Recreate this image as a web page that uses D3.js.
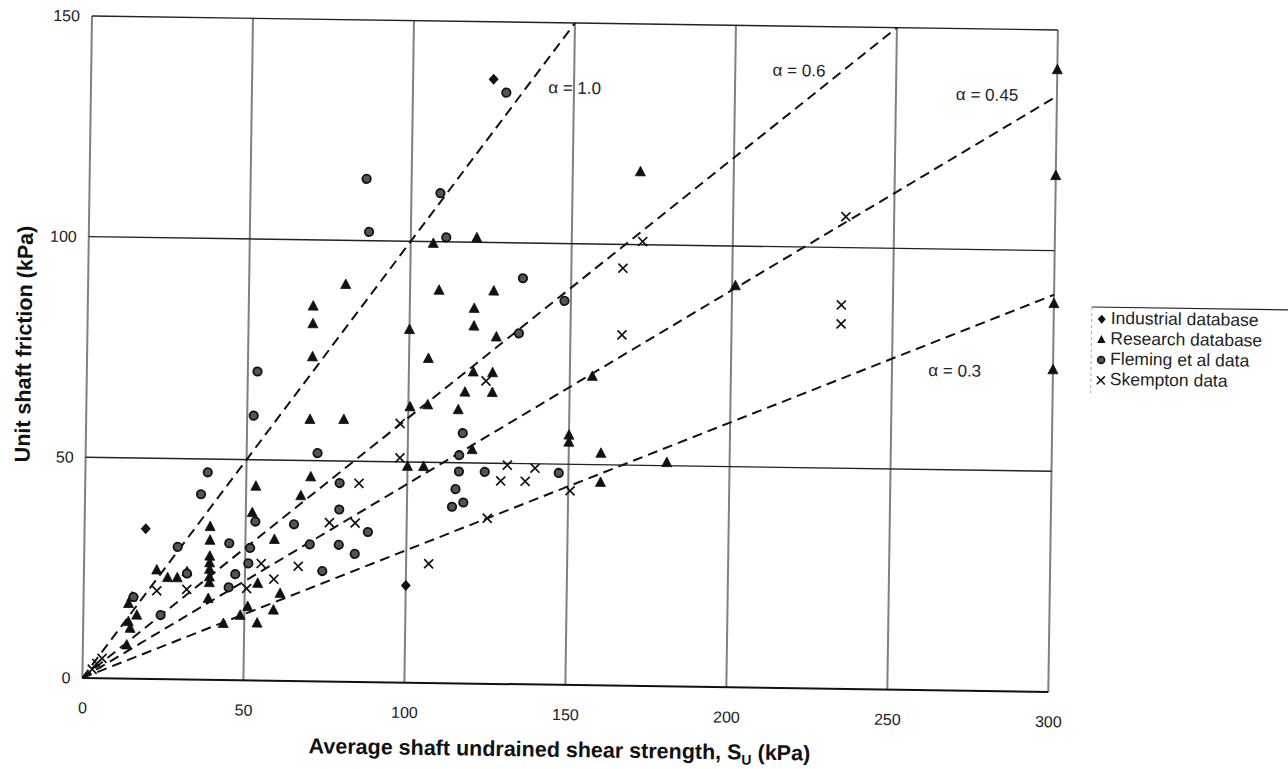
<!DOCTYPE html>
<html>
<head>
<meta charset="utf-8">
<script src="https://cdn.jsdelivr.net/npm/d3@7"></script>
<style>
  html, body { margin: 0; padding: 0; background: #fff; }
  svg { display: block; font-family: "Liberation Sans", Arial, sans-serif; }
</style>
</head>
<body>
<script>
// ---------- data ----------
const xTicks = [0, 50, 100, 150, 200, 250, 300];
const yTicks = [0, 50, 100, 150];
const alphas = [1.0, 0.6, 0.45, 0.3];
const alphaLabels = ["α = 1.0", "α = 0.6", "α = 0.45", "α = 0.3"];
const seriesNames = ["Industrial database", "Research database", "Fleming et al data", "Skempton data"];

const industrial = [[125,137],[19,34],[100,22]];

const research = [
  [300,141],[300,117],[300,88],[300,73],[201,91],[171,116.5],
  [107,99.6],[120.5,101],[80,90],[109,89],[126,89],[70,85],[70,81],[100,80],[120,85],[120,81],
  [127,78.6],[106,73.5],[70,73.5],[120,70.6],[126,70.5],[117.5,66],[126,66],[100.5,62.5],[106,63],
  [115.5,62],[150,56.6],[150,55],[120,53],[100,49],[105,49],[160,52.6],[180.5,50.7],[160,46],[157,70],
  [69.5,59.3],[80,59.4],[70,46.3],[67,42],[53,44],[52,38],[39,34.7],[39,31.6],[39,28],[39,26.5],
  [39,25],[39,23.3],[39,22],[59,32],[22.6,24.7],[26,23],[29,23],[32,24.4],[54,22],[38.7,18.4],
  [61,19.8],[59,16],[51,16.7],[48.7,14.7],[54,13],[43.5,12.8],[15,18.5],[14,17],[16.6,14.4],
  [14,12.9],[14.6,11.4],[13.6,7.6]
];

const fleming = [
  [129,134],[86,114],[109,111],[87,102],[111,101],[135,92],[148,87],[134,79.5],[53,70],[52,60],
  [72,51.7],[117,56.7],[116,51.7],[116,48],[124,48],[147,48],[115,44],[117.5,41],[114,40],[38,47],
  [36,42],[53,36],[45,31],[65,35.5],[51.5,30],[70,31],[29,30],[51,26.5],[47,24],[45,21],[24,14.5],
  [79,45],[79,39],[88,34],[79,31],[84,29],[74,25],[15.5,18.5],[32,24]
];

const skempton = [
  [235,107],[234,87],[234,82.7],[172,100.7],[166,94.6],[166,79.5],[124,68.6],[97.5,58.7],[97.6,50.9],
  [131,49.6],[139.6,49],[129,46],[136.6,46],[150.6,44],[125,37.5],[107,27],[85,45],[76,36],[84,36],
  [55,26.5],[66.5,26],[59,23],[50.6,20.8],[22.7,20],[32,20.4],[4.4,3.3],[6,4.5],[3,2]
];

// ---------- layout ----------
const W = 1288, H = 769;
const pw = 966, ph = 662;
const svg = d3.select("body").append("svg").attr("width", W).attr("height", H);
svg.append("rect").attr("width", W).attr("height", H).attr("fill", "#fff");

// the scanned figure is slightly rotated
const g = svg.append("g").attr("transform", "translate(92,16) rotate(0.83)");

const x = d3.scaleLinear().domain([0, 300]).range([0, pw]);
const y = d3.scaleLinear().domain([0, 150]).range([ph, 0]);

// vertical grid lines (grey)
g.selectAll("line.vgrid").data(xTicks).enter().append("line")
  .attr("class", "vgrid")
  .attr("x1", d => x(d)).attr("x2", d => x(d))
  .attr("y1", y(0)).attr("y2", y(150))
  .attr("stroke", "#808080").attr("stroke-width", 2);

// horizontal lines
g.selectAll("line.hgrid").data(yTicks).enter().append("line")
  .attr("class", "hgrid")
  .attr("x1", x(0)).attr("x2", x(300))
  .attr("y1", d => y(d)).attr("y2", d => y(d))
  .attr("stroke", d => d === 0 ? "#111" : "#222")
  .attr("stroke-width", d => d === 0 ? 2 : 1.4);

// alpha lines
alphas.forEach((a, i) => {
  const xe = Math.min(300, 150 / a);
  g.append("line")
    .attr("x1", x(0)).attr("y1", y(0))
    .attr("x2", x(xe)).attr("y2", y(a * xe))
    .attr("stroke", "#111").attr("stroke-width", 2)
    .attr("stroke-dasharray", "10,6");
});

// alpha labels
const alphaLabelPos = [[150.2, 135], [219.8, 139.7], [278.3, 134.8], [269.5, 72.2]];
alphaLabels.forEach((t, i) => {
  g.append("text")
    .attr("x", x(alphaLabelPos[i][0])).attr("y", y(alphaLabelPos[i][1]))
    .attr("text-anchor", "middle").attr("dominant-baseline", "middle")
    .attr("font-size", 17).attr("fill", "#222").text(t);
});

// axes (labels only)
const xAxis = d3.axisBottom(x).tickValues(xTicks).tickSize(0).tickPadding(24).tickFormat(d3.format("d"));
const gx = g.append("g").attr("transform", `translate(0,${ph})`).call(xAxis);
gx.select(".domain").remove();
gx.selectAll("text").attr("font-size", 16).attr("fill", "#222")
  .attr("font-family", '"Liberation Sans", Arial, sans-serif');

const yAxis = d3.axisLeft(y).tickValues(yTicks).tickSize(0).tickPadding(12).tickFormat(d3.format("d"));
const gy = g.append("g").call(yAxis);
gy.select(".domain").remove();
gy.selectAll("text").attr("font-size", 16).attr("fill", "#222")
  .attr("font-family", '"Liberation Sans", Arial, sans-serif');

// axis titles
const xt = g.append("text")
  .attr("x", 478).attr("y", 734)
  .attr("text-anchor", "middle")
  .attr("font-size", 21.5).attr("font-weight", "bold").attr("fill", "#111");
xt.append("tspan").text("Average shaft undrained shear strength, S");
xt.append("tspan").attr("font-size", 14).attr("dy", 5).text("U");
xt.append("tspan").attr("dy", -5).text(" (kPa)");

g.append("text")
  .attr("transform", `translate(-56,329) rotate(-90)`)
  .attr("text-anchor", "middle")
  .attr("font-size", 21.5).attr("font-weight", "bold").attr("fill", "#111")
  .text("Unit shaft friction (kPa)");

// markers
const diamondPath = "M0,-5.5L5,0L0,5.5L-5,0Z";
const trianglePath = "M0,-5.5L5,4L-5,4Z";
const crossPath = "M-4.5,-4.5L4.5,4.5M-4.5,4.5L4.5,-4.5";

g.selectAll("path.research").data(research).enter().append("path")
  .attr("class", "research")
  .attr("transform", d => `translate(${x(d[0])},${y(d[1])})`)
  .attr("d", trianglePath).attr("fill", "#111").attr("stroke", "#111").attr("stroke-width", 0.8);

g.selectAll("circle.fleming").data(fleming).enter().append("circle")
  .attr("class", "fleming")
  .attr("cx", d => x(d[0])).attr("cy", d => y(d[1])).attr("r", 4.2)
  .attr("fill", "#555").attr("stroke", "#111").attr("stroke-width", 1.8);

g.selectAll("path.skempton").data(skempton).enter().append("path")
  .attr("class", "skempton")
  .attr("transform", d => `translate(${x(d[0])},${y(d[1])})`)
  .attr("d", crossPath).attr("fill", "none").attr("stroke", "#111").attr("stroke-width", 1.7);

g.selectAll("path.industrial").data(industrial).enter().append("path")
  .attr("class", "industrial")
  .attr("transform", d => `translate(${x(d[0])},${y(d[1])})`)
  .attr("d", diamondPath).attr("fill", "#111");

// legend
const lg = g.append("g").attr("transform", "translate(1004,276.5)");
lg.append("line").attr("x1", 0).attr("x2", 300).attr("y1", 0).attr("y2", 0)
  .attr("stroke", "#222").attr("stroke-width", 1.2);
lg.append("line").attr("x1", 0).attr("x2", 0).attr("y1", 0).attr("y2", 86)
  .attr("stroke", "#aaa").attr("stroke-width", 1).attr("stroke-dasharray", "3,3");
const legendMarks = [
  s => s.append("path").attr("d", "M0,-4.5L4,0L0,4.5L-4,0Z").attr("fill", "#111"),
  s => s.append("path").attr("d", "M0,-4.5L4.2,3.5L-4.2,3.5Z").attr("fill", "#111"),
  s => s.append("circle").attr("r", 3.5).attr("fill", "#555").attr("stroke", "#111").attr("stroke-width", 1.5),
  s => s.append("path").attr("d", "M-4,-4L4,4M-4,4L4,-4").attr("stroke", "#111").attr("stroke-width", 1.5)
];
seriesNames.forEach((name, i) => {
  const row = lg.append("g").attr("transform", `translate(0,${12 + i * 20.4})`);
  legendMarks[i](row.append("g").attr("transform", "translate(10,0)"));
  row.append("text").attr("x", 19).attr("y", 0).attr("dominant-baseline", "middle")
    .attr("font-size", 17.5).attr("fill", "#222").text(name);
});
</script>
</body>
</html>
